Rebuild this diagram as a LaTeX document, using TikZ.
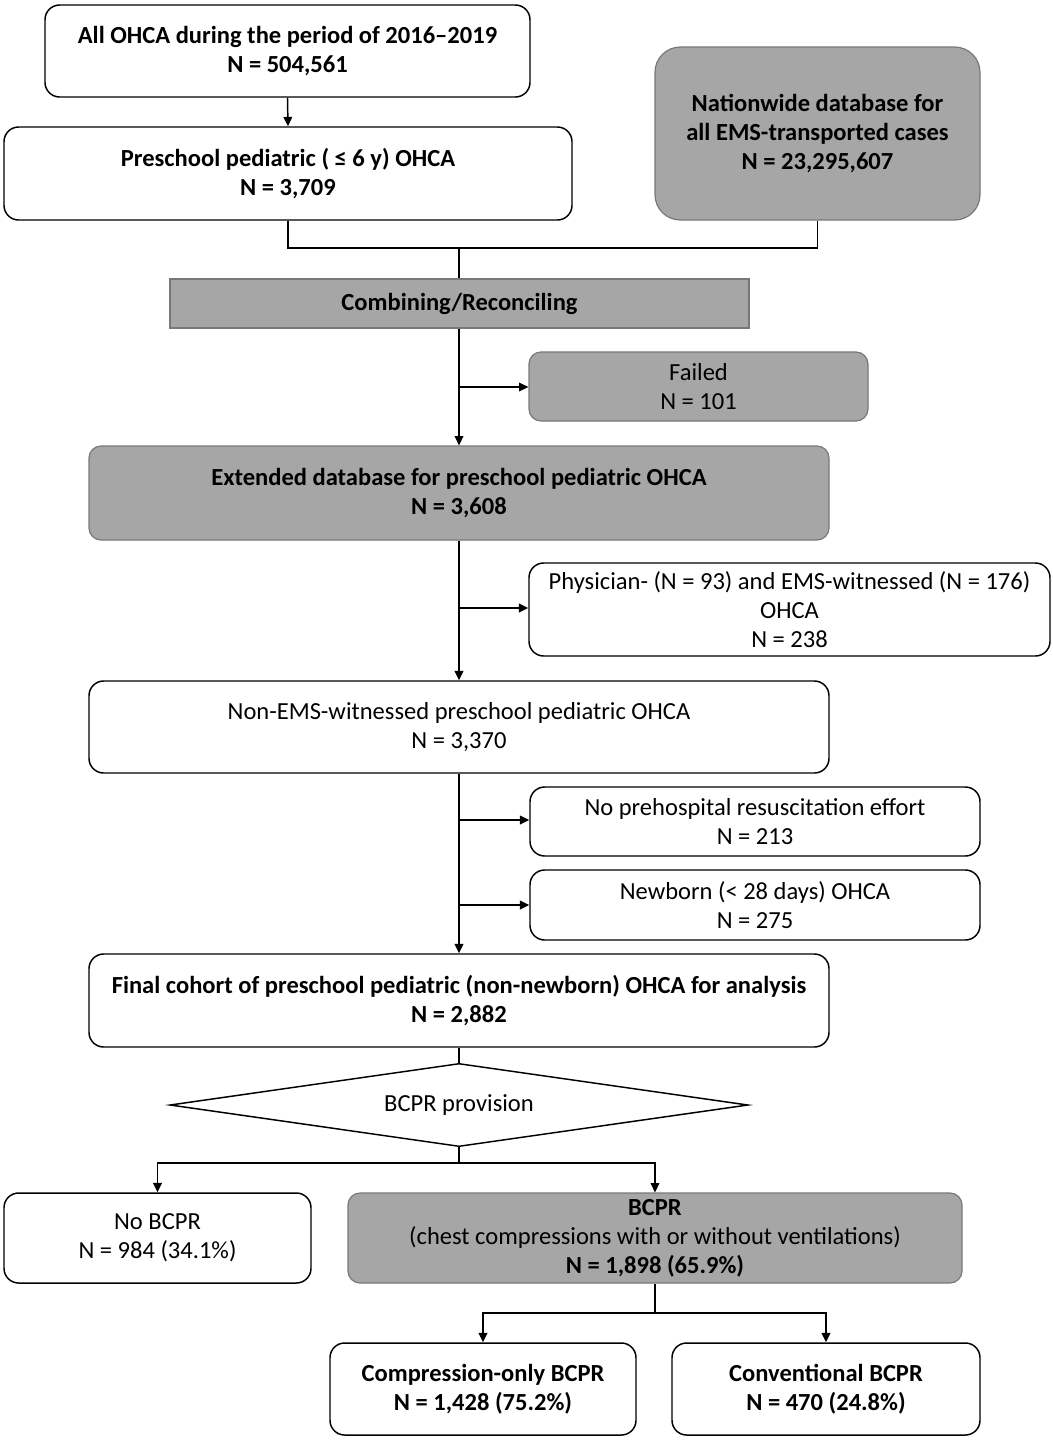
\documentclass[tikz,border=0pt]{standalone}
\usepackage{fontspec}
\setmainfont{Carlito}
\usetikzlibrary{arrows.meta}
\definecolor{boxgray}{RGB}{166,166,166}
\definecolor{edgegray}{RGB}{120,120,120}
\tikzset{
  base/.style={align=center, inner sep=0pt, font=\fontsize{18.4}{21.75}\selectfont, text=black},
  wbox/.style={base, draw=black, line width=1.1pt, fill=white, rounded corners=11pt},
  gbox/.style={base, draw=edgegray, line width=0.9pt, fill=boxgray, rounded corners=9pt},
  line/.style={draw=black, line width=1.1pt},
  arr/.style={line, -{Triangle[length=7pt,width=6.5pt]}},
}
\begin{document}
\begin{tikzpicture}[x=0.75pt,y=-0.75pt]
\useasboundingbox (0,0) rectangle (1053,1440);
\fill[white] (0,0) rectangle (1053,1440);

\node[wbox, minimum width=363.75pt, minimum height=69pt] (all) at (287.5,51)
  {\textbf{All OHCA during the period of 2016–2019}\\\textbf{N = 504,561}};
\node[wbox, minimum width=426pt, minimum height=69.75pt] (pre) at (288,173.5)
  {\textbf{Preschool pediatric ( ≤ 6 y) OHCA}\\\textbf{N = 3,709}};
\node[gbox, rounded corners=19pt, minimum width=243.75pt, minimum height=129.75pt] (nat) at (817.5,133.5)
  {\textbf{Nationwide database for}\\\textbf{all EMS-transported cases}\\\textbf{N = 23,295,607}};
\node[gbox, rounded corners=0pt, minimum width=434.25pt, minimum height=36.75pt] (comb) at (459.5,303.5)
  {\textbf{Combining/Reconciling}};
\node[gbox, minimum width=254.25pt, minimum height=51.75pt] (fail) at (698.5,386.5)
  {Failed\\N = 101};
\node[gbox, minimum width=555pt, minimum height=70.5pt] (ext) at (459,493)
  {\textbf{Extended database for preschool pediatric OHCA}\\\textbf{N = 3,608}};
\node[wbox, minimum width=390.75pt, minimum height=69.75pt] (phys) at (789.5,609.5)
  {Physician- (N = 93) and EMS-witnessed (N = 176)\\OHCA\\N = 238};
\node[wbox, minimum width=555pt, minimum height=69pt] (nonems) at (459,727)
  {Non-EMS-witnessed preschool pediatric OHCA\\N = 3,370};
\node[wbox, minimum width=337.5pt, minimum height=51.75pt] (noph) at (755,821.5)
  {No prehospital resuscitation effort\\N = 213};
\node[wbox, minimum width=337.5pt, minimum height=52.5pt] (newb) at (755,905)
  {Newborn (< 28 days) OHCA\\N = 275};
\node[wbox, minimum width=555pt, minimum height=69.75pt] (final) at (459,1000.5)
  {\textbf{Final cohort of preschool pediatric (non-newborn) OHCA for analysis}\\\textbf{N = 2,882}};
\node[base, minimum width=432.75pt, minimum height=61.5pt] (dia) at (459,1105)
  {BCPR provision};
\draw[line] (dia.north) -- (dia.east) -- (dia.south) -- (dia.west) -- cycle;
\node[wbox, minimum width=230.25pt, minimum height=67.5pt] (nob) at (157.5,1238)
  {No BCPR\\N = 984 (34.1\%)};
\node[gbox, minimum width=460.5pt, minimum height=67.5pt] (bcpr) at (655,1238)
  {\textbf{BCPR}\\(chest compressions with or without ventilations)\\\textbf{N = 1,898 (65.9\%)}};
\node[wbox, minimum width=229.5pt, minimum height=69pt] (comp) at (483,1389)
  {\textbf{Compression-only BCPR}\\\textbf{N = 1,428 (75.2\%)}};
\node[wbox, minimum width=231pt, minimum height=69pt] (conv) at (826,1389)
  {\textbf{Conventional BCPR}\\\textbf{N = 470 (24.8\%)}};

% connectors
\draw[arr] (all.south) -- (pre.north);
\coordinate (m) at (459,248);
\draw[line] (pre.south) |- (m);
\draw[line] (nat.south) |- (m);
\draw[line] (m) -- (m |- comb.north);

\draw[arr] (comb.south -| m) -- (m |- ext.north);
\coordinate (f) at (459,387);
\draw[arr] (f) -- (f -| fail.west);

\draw[arr] (ext.south -| m) -- (m |- nonems.north);
\coordinate (p) at (459,608);
\draw[arr] (p) -- (p -| phys.west);

\draw[arr] (nonems.south -| m) -- (m |- final.north);
\coordinate (q1) at (459,820);
\coordinate (q2) at (459,905);
\draw[arr] (q1) -- (q1 -| noph.west);
\draw[arr] (q2) -- (q2 -| newb.west);

\draw[line] (final.south) -- (dia.north);
\coordinate (d) at (459,1163);
\draw[line] (dia.south) -- (d);
\draw[arr] (d) -| (nob.north);
\draw[arr] (d) -| (bcpr.north);

\coordinate (b) at (655,1313);
\draw[line] (bcpr.south) -- (b);
\draw[arr] (b) -| (comp.north);
\draw[arr] (b) -| (conv.north);
\end{tikzpicture}
\end{document}
